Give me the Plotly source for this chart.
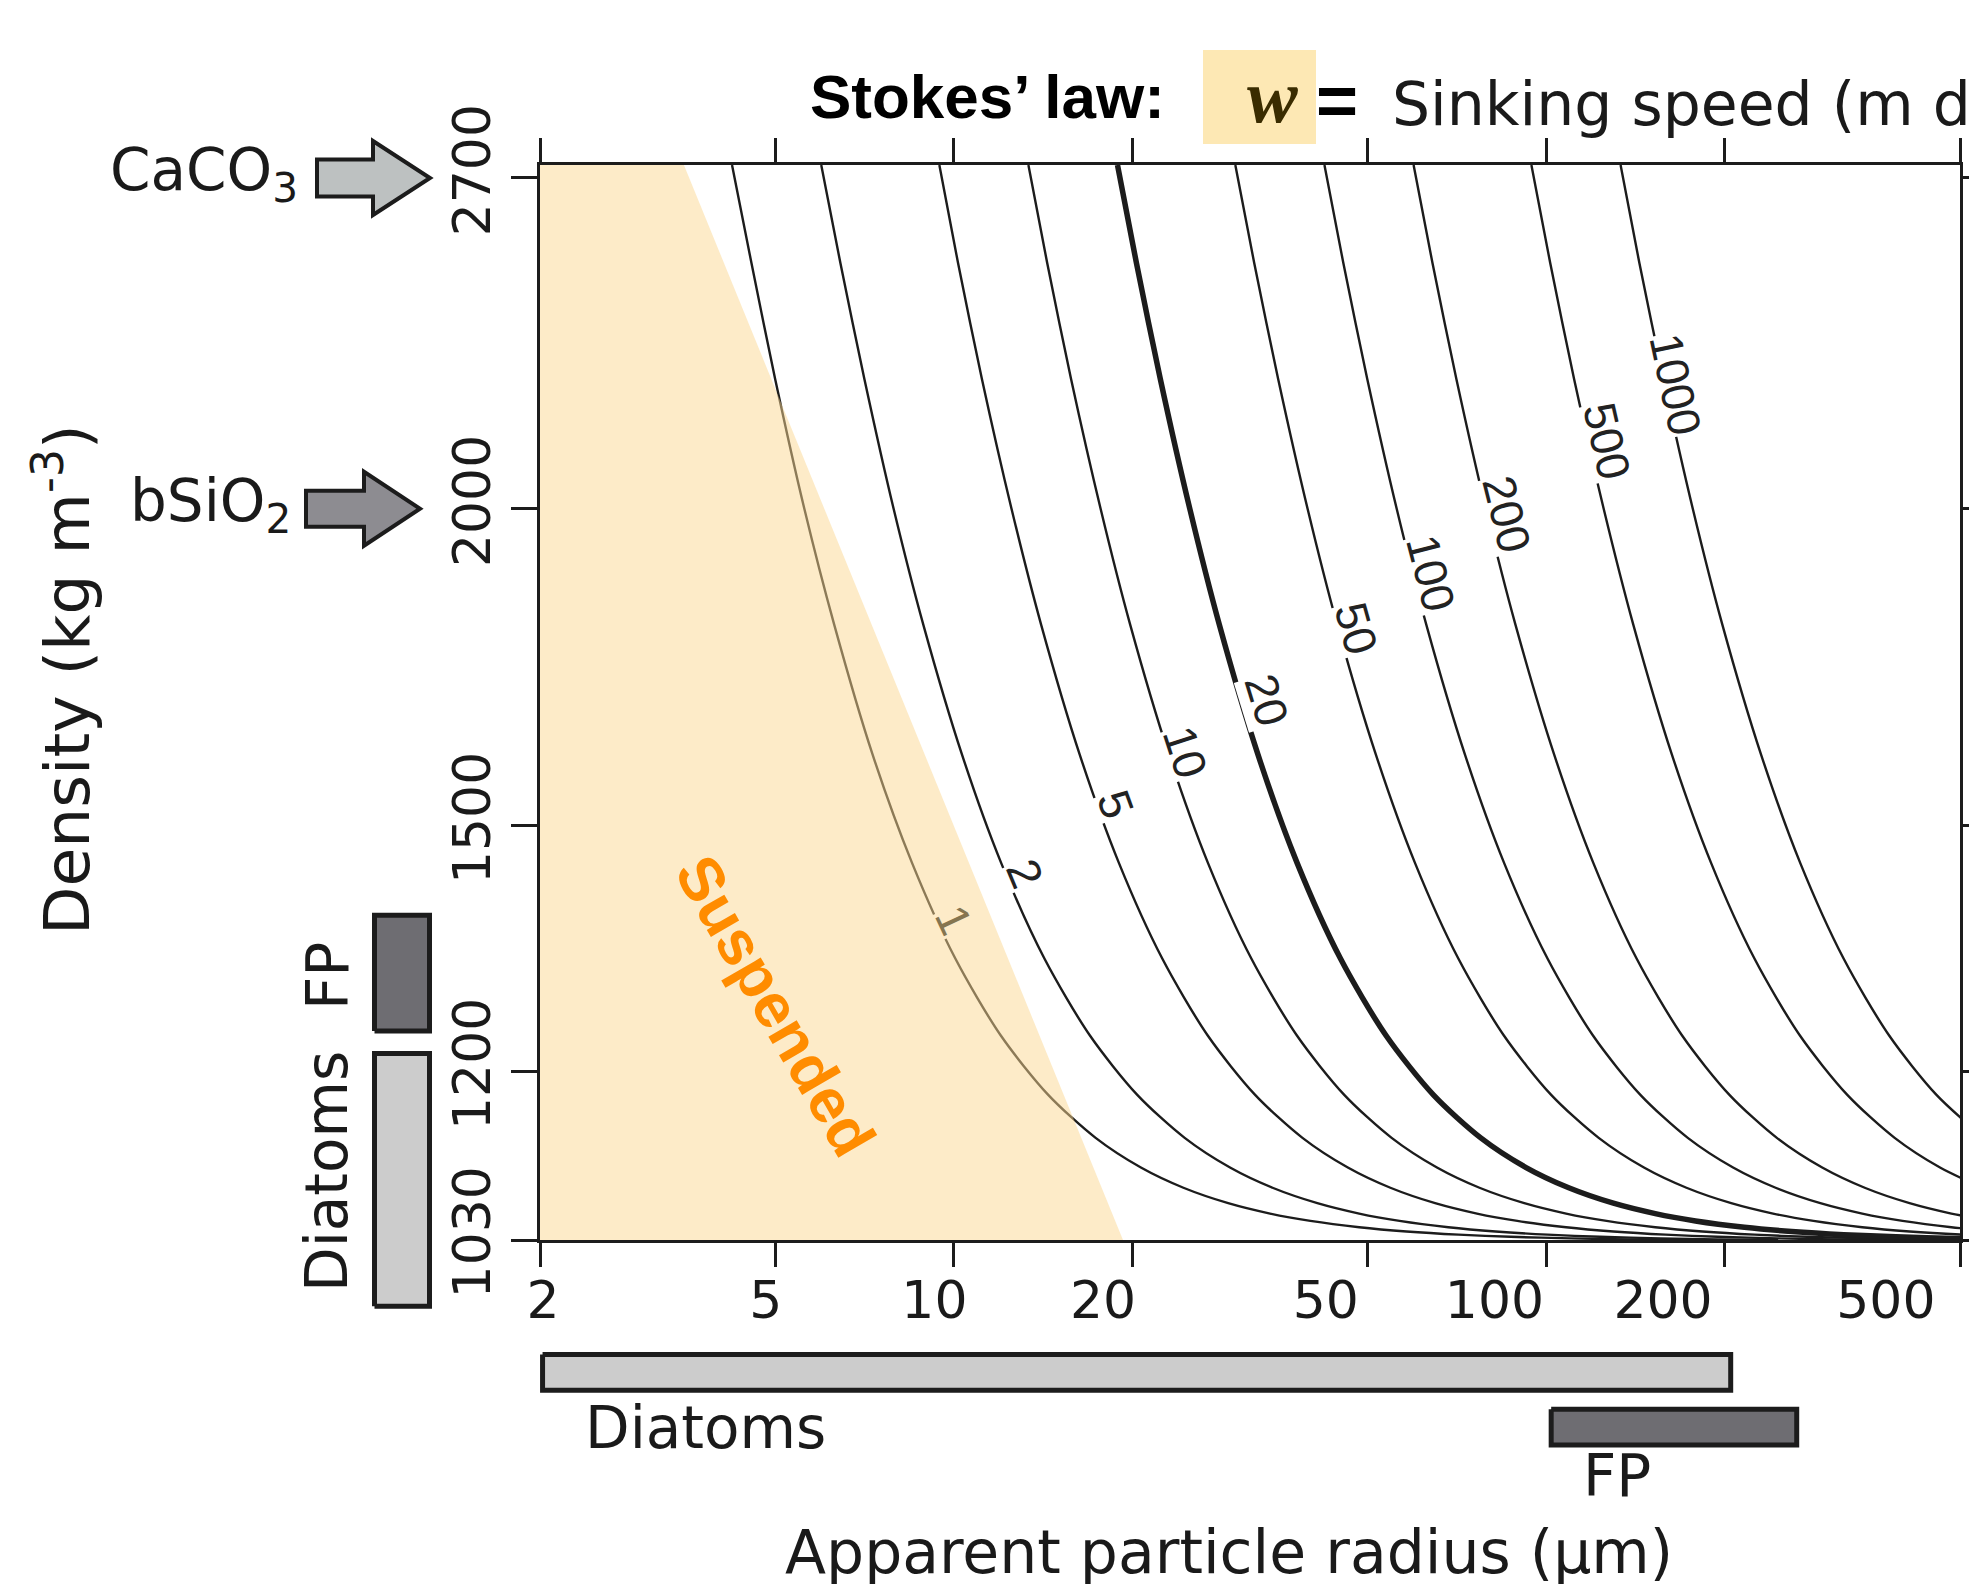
import math
import plotly.graph_objects as go

W, H = 1969, 1584


def fx(px):
    return px / W


def fy(py):
    return 1 - py / H


# ---------------- data ----------------
speeds = [1, 2, 5, 10, 20, 50, 100, 200, 500, 1000]          # m d-1
density_levels = [2732, 2500, 2250, 2000, 1800, 1600, 1450, 1330, 1240, 1175, 1130,
                  1100, 1080, 1065, 1055, 1048, 1042, 1038, 1035, 1033, 1031.5, 1030.6, 1030.0]
radius_w1 = [4.22, 4.55, 4.99, 5.59, 6.28, 7.29, 8.50, 10.05, 12.0, 14.43, 17.35, 20.69,
             24.41, 29.05, 34.19, 39.99, 48.35, 58.11, 71.17, 87.16, 110.2, 137.8, 174.3]
radius_w2 = [5.97, 6.43, 7.06, 7.91, 8.88, 10.32, 12.02, 14.21, 16.97, 20.40, 24.53, 29.26,
             34.52, 41.09, 48.35, 56.56, 68.38, 82.18, 100.6, 123.3, 155.9, 194.9, 246.5]
radius_w5 = [9.45, 10.16, 11.15, 12.51, 14.04, 16.31, 19.00, 22.47, 26.83, 32.26, 38.78, 46.26,
             54.58, 64.96, 76.44, 89.42, 108.1, 129.9, 159.1, 194.9, 246.5, 308.1, 389.8]
radius_w10 = [13.36, 14.37, 15.77, 17.69, 19.85, 23.07, 26.86, 31.77, 37.95, 45.62, 54.85, 65.42,
              77.18, 91.87, 108.1, 126.5, 152.9, 183.7, 225.0, 275.6, 348.6, 435.7, 551.3]
radius_w20 = [18.89, 20.33, 22.31, 25.02, 28.07, 32.62, 37.99, 44.93, 53.67, 64.52, 77.57, 92.52,
              109.2, 129.9, 152.9, 178.8, 216.2, 259.9, 318.3, 389.8, 493.0, 616.2]
radius_w50 = [29.87, 32.14, 35.28, 39.56, 44.39, 51.59, 60.08, 71.05, 84.86, 102.0, 122.7, 146.3,
              172.6, 205.4, 241.7, 282.8, 341.9, 410.9, 503.3, 616.3]
radius_w100 = [42.24, 45.45, 49.89, 55.94, 62.78, 72.95, 84.96, 100.5, 120.0, 144.3, 173.5, 206.9,
               244.1, 290.5, 341.9, 399.9, 483.5, 581.1]
radius_w200 = [59.74, 64.28, 70.55, 79.11, 88.79, 103.2, 120.2, 142.1, 169.7, 204.0, 245.3, 292.6,
               345.2, 410.9, 483.5, 565.6]
radius_w500 = [94.45, 101.6, 111.5, 125.1, 140.4, 163.1, 190.0, 224.7, 268.3, 322.6, 387.8, 462.6,
               545.8]
radius_w1000 = [133.6, 143.7, 157.8, 176.9, 198.5, 230.7, 268.7, 317.8, 379.6, 456.3, 548.6]
contour_radii = [radius_w1, radius_w2, radius_w5, radius_w10, radius_w20, radius_w50,
                 radius_w100, radius_w200, radius_w500, radius_w1000]

# where each contour label sits (radius um, density kg m-3)
label_radius = [10.0, 13.2, 18.8, 24.6, 33.8, 47.9, 63.8, 85.9, 126.5, 165.4]
label_density = [1377, 1436, 1529, 1604, 1682, 1794, 1886, 1991, 2126, 2240]

x_tick_values = [2, 5, 10, 20, 50, 100, 200, 500]
x_tick_labels = ["2", "5", "10", "20", "50", "100", "200", "500"]
y_tick_values = [1030, 1200, 1500, 2000, 2700]
y_tick_labels = ["1030", "1200", "1500", "2000", "2700"]
radius_min, radius_max = 2, 500
density_min, density_max = 1030, 2732

suspended_radius = [2, 2, 3.5, 19.3]
suspended_density = [1030, 2732, 2732, 1030]

group_names = ["Diatoms", "FP"]
group_radius_ranges = [[2.02, 205], [102, 265]]
group_density_ranges = [[970, 1220], [1245, 1383]]

materials = ["CaCO<sub>3</sub>", "bSiO<sub>2</sub>"]
material_density = [2700, 2000]

# ---------------- styling / geometry ----------------
INK = "#1c1c1c"
TXT = "#1a1a1a"
SANS = "DejaVu Sans"
group_colors = ["#CCCCCC", "#6E6D72"]
material_colors = ["#BDC1C1", "#8D8C91"]
label_angles = [65, 67.5, 70, 72, 73, 74.5, 75.5, 76, 77, 78]

PL, PR, PT, PB = 540, 1960, 165, 1240
ly_min, ly_max = math.log10(density_min), math.log10(density_max)
lx_min, lx_max = math.log10(radius_min), math.log10(radius_max)
dpp_y = (ly_max - ly_min) / (PB - PT)      # decades per pixel (density)
dpp_x = (lx_max - lx_min) / (PR - PL)      # decades per pixel (radius)

fig = go.Figure()

# contour lines
for w, radii in zip(speeds, contour_radii):
    fig.add_trace(go.Scatter(
        x=radii, y=density_levels[:len(radii)], mode="lines",
        line=dict(color=INK, width=5.5 if w == 20 else 2.4, shape="spline", smoothing=0.8),
        hoverinfo="skip", showlegend=False))

# suspended region (semi-transparent, drawn over the lines)
fig.add_trace(go.Scatter(
    x=suspended_radius + suspended_radius[:1], y=suspended_density + suspended_density[:1],
    mode="lines", fill="toself", fillcolor="rgba(252,215,145,0.5)",
    line=dict(width=0), hoverinfo="skip", showlegend=False))

# helper for the label-only x axis
fig.add_trace(go.Scatter(x=x_tick_values[:1], y=y_tick_values[:1], xaxis="x2", yaxis="y",
                         mode="markers", marker=dict(opacity=0), hoverinfo="skip",
                         showlegend=False))

# left (density) bars
for (lo, hi), col in zip(group_density_ranges, group_colors):
    fig.add_trace(go.Scatter(
        x=[0, 1, 1, 0, 0], y=[lo, lo, hi, hi, lo], xaxis="x3", yaxis="y3",
        mode="lines", fill="toself", fillcolor=col,
        line=dict(color=INK, width=5), hoverinfo="skip", showlegend=False))

# bottom (radius) bars
half = 0.327
for i, ((r0, r1), col) in enumerate(zip(group_radius_ranges, group_colors)):
    fig.add_trace(go.Scatter(
        x=[r0, r1, r1, r0, r0], y=[i - half, i - half, i + half, i + half, i - half],
        xaxis="x4", yaxis="y4", mode="lines", fill="toself", fillcolor=col,
        line=dict(color=INK, width=5), hoverinfo="skip", showlegend=False))

shapes = []
# box behind w
shapes.append(dict(type="rect", xref="paper", yref="paper", x0=fx(1203), x1=fx(1316),
                   y0=fy(144), y1=fy(50), fillcolor="#FDE8B4", line=dict(width=0), layer="below"))
# material arrows pointing at the density axis
arrow_geom = [(317, 373, 430, 18.5, 37), (306, 364, 420, 18, 37)]
for dens, col, (xs, xb, xt, sh, hh) in zip(material_density, material_colors, arrow_geom):
    path = (f"M {fx(xs)},{sh} L {fx(xb)},{sh} L {fx(xb)},{hh} L {fx(xt)},0 "
            f"L {fx(xb)},{-hh} L {fx(xb)},{-sh} L {fx(xs)},{-sh} Z")
    shapes.append(dict(type="path", xref="paper", yref="y3", ysizemode="pixel", yanchor=dens,
                       path=path, fillcolor=col, line=dict(color=INK, width=4)))

ann = []


def text(t, x, y, size, family=SANS, color=TXT, angle=0, xanchor="center", yanchor="middle",
         xref="paper", yref="paper", **kw):
    ann.append(dict(text=t, x=x, y=y, xref=xref, yref=yref, showarrow=False,
                    font=dict(family=family, size=size, color=color), textangle=angle,
                    xanchor=xanchor, yanchor=yanchor, **kw))


# title pieces
text("<b>Stokes’ law:</b>", fx(987), fy(97), 62, family="Liberation Sans", color="#000")
text("<b><i>w</i></b>", fx(1272), fy(96), 76, family="Liberation Serif", color="#3A2C00")
text("<b>=</b>", fx(1337), fy(100), 72, family="Liberation Sans", color="#000")
text("Sinking speed (m d<sup>-1</sup>)", fx(1390), fy(100), 60, xanchor="left")

# axis titles
text("Apparent particle radius (μm)", fx(1229), fy(1552), 60)
text("Density (kg m<sup>-3</sup>)", fx(63), fy(680), 63, angle=-90)

# material labels
for name, dens, xr in zip(materials, material_density, [300, 293]):
    text(name, fx(xr), math.log10(dens), 58, xanchor="right", yref="y3", yshift=4)

# bar labels
text(group_names[0], fx(705), fy(1428), 58)
text(group_names[1], fx(1617), fy(1476), 58)
text(group_names[1], fx(328), fy(976), 58, angle=-90)
text(group_names[0], fx(327), fy(1172), 58, angle=-90)

# suspended
text("<b>Suspended</b>", fx(775), fy(1006), 62, family="Liberation Sans", color="#FF8C00",
     angle=60)

# contour labels
for w, r, d, a in zip(speeds, label_radius, label_density, label_angles):
    inside = w == 1
    text(str(w), math.log10(r), math.log10(d), 46, family="Liberation Sans",
         color="#857550" if inside else "#222", angle=a, xref="x", yref="y",
         bgcolor="#FDEBC8" if inside else "white", borderpad=0)

axis_common = dict(showgrid=False, zeroline=False)
fig.update_layout(
    width=W, height=H, margin=dict(l=0, r=0, t=0, b=0, pad=0, autoexpand=False),
    paper_bgcolor="white", plot_bgcolor="white", showlegend=False,
    xaxis=dict(type="log", range=[lx_min, lx_max], domain=[fx(PL), fx(PR)], anchor="y",
               showline=True, linecolor=INK, linewidth=3, mirror="ticks",
               ticks="outside", ticklen=24, tickwidth=2.5, tickcolor=INK,
               tickvals=x_tick_values, showticklabels=False, layer="below traces",
               automargin=False, **axis_common),
    yaxis=dict(type="log", range=[ly_min, ly_max], domain=[fy(PB), fy(PT)], anchor="x",
               showline=True, linecolor=INK, linewidth=3, mirror="ticks",
               ticks="outside", ticklen=26, tickwidth=2.5, tickcolor=INK,
               tickvals=y_tick_values, ticktext=y_tick_labels, tickangle=-90,
               tickfont=dict(family=SANS, size=52, color=TXT), layer="below traces",
               automargin=False, **axis_common),
    xaxis2=dict(type="log", overlaying="x", anchor="y", side="bottom",
                range=[lx_min - 3 / 560, lx_min - 3 / 560 + (PR - PL) / 560],
                showline=False, ticks="outside", ticklen=15, tickcolor="rgba(0,0,0,0)",
                tickvals=x_tick_values, ticktext=x_tick_labels, automargin=False,
                tickfont=dict(family=SANS, size=52, color=TXT), **axis_common),
    xaxis3=dict(domain=[fx(369), fx(435)], range=[-0.1, 1.1], visible=False, anchor="y3"),
    yaxis3=dict(type="log", domain=[0, 1], anchor="x3", visible=False,
                range=[ly_min - (H - PB) * dpp_y, ly_min + PB * dpp_y]),
    xaxis4=dict(type="log", domain=[fx(PL - 10), fx(PR)], anchor="y4", visible=False,
                range=[lx_min - 10 * dpp_x, lx_max]),
    yaxis4=dict(domain=[fy(1482), fy(1317.5)], range=[2, -1], anchor="x4", visible=False),
    shapes=shapes, annotations=ann,
)

fig.write_html("out.html", config={"displayModeBar": False},
               post_script="document.body.style.margin='0';")
